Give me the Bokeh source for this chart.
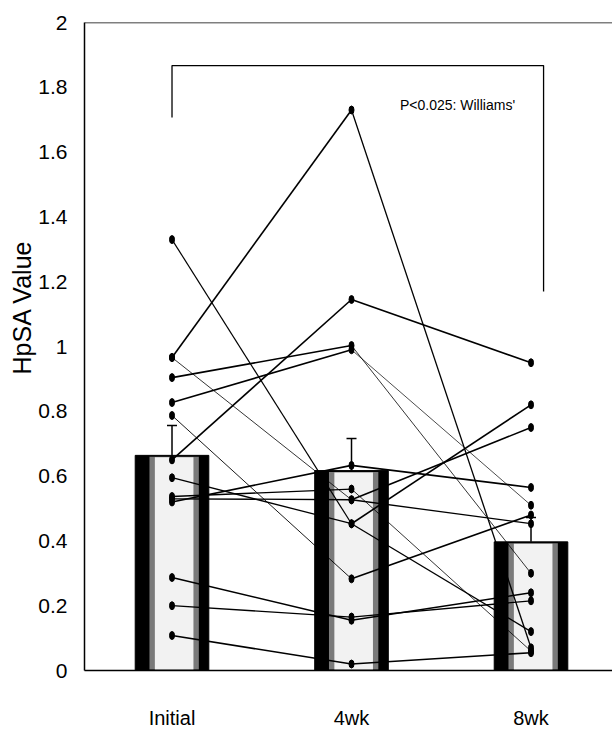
from bokeh.plotting import figure
from bokeh.models import (Range1d, FixedTicker, Span, Label, Whisker, TeeHead,
                          ColumnDataSource, Title)
from bokeh.embed import file_html
from bokeh.resources import INLINE

# ---------------- data ----------------
categories = ["Initial", "4wk", "8wk"]

# individual subjects (Initial, 4wk, 8wk)
initial = [1.33, 0.966, 0.966, 0.904, 0.827, 0.787, 0.65, 0.595, 0.537, 0.53, 0.52, 0.287, 0.20, 0.108]
week4   = [0.453, 1.73, 0.527, 1.003, 0.99, 0.283, 1.145, 0.453, 0.56, 0.527, 0.633, 0.155, 0.165, 0.02]
week8   = [0.82, 0.07, 0.453, 0.30, 0.51, 0.48, 0.95, 0.12, 0.06, 0.75, 0.565, 0.24, 0.215, 0.055]

# group means and standard errors (bars)
means = [0.664, 0.617, 0.397]
sems  = [0.092, 0.099, 0.075]

y_ticks = [0, 0.2, 0.4, 0.6, 0.8, 1.0, 1.2, 1.4, 1.6, 1.8, 2.0]
y_tick_labels = ["0", "0.2", "0.4", "0.6", "0.8", "1", "1.2", "1.4", "1.6", "1.8", "2"]

annotation_text = "P<0.025: Williams'"
y_title = "HpSA Value"

# significance bracket (data coordinates)
bracket_x = [0, 0, 2.07, 2.07]
bracket_y = [1.707, 1.867, 1.867, 1.17]

# ---------------- styles ----------------
seg1_w = [1.2, 1.6, 0.8, 1.6, 1.6, 0.9, 1.6, 1.3, 1.3, 1.3, 1.6, 1.6, 1.3, 1.6]
seg2_w = [1.6, 1.3, 1.3, 0.8, 0.7, 1.6, 1.6, 1.3, 0.8, 1.6, 1.6, 1.6, 1.3, 1.6]
FONT = "Liberation Sans"

p = figure(width=612, height=733, output_backend="svg", toolbar_location=None,
           x_range=Range1d(-0.4875, 2.454), y_range=Range1d(0, 2),
           min_border_left=84, min_border_right=0, min_border_top=22,
           min_border_bottom=63)
p.outline_line_color = None
p.grid.visible = False
p.background_fill_color = "white"
p.border_fill_color = "white"

xpos = list(range(len(categories)))

# bars: black outer with a light centre
p.vbar(x=xpos, top=means, width=0.41, bottom=0, fill_color="black", line_color="black")
xc = [x + 0.012 for x in xpos]
p.vbar(x=xc, top=[m - 0.004 for m in means], width=0.275, bottom=0.003,
       fill_color="#7a7a7a", line_color=None)
p.vbar(x=xc, top=[m - 0.006 for m in means], width=0.215, bottom=0.003,
       fill_color="#f2f2f2", line_color=None)

# error bars
src = ColumnDataSource(dict(x=xpos, lower=means,
                            upper=[m + s for m, s in zip(means, sems)]))
p.add_layout(Whisker(source=src, base="x", lower="lower", upper="upper",
                     line_color="black", line_width=1.5, lower_head=None,
                     upper_head=TeeHead(size=10, line_width=1.5, line_color="black")))

# subject lines
n = len(initial)
p.segment(x0=[0] * n, y0=initial, x1=[1] * n, y1=week4, line_color="black", line_width=seg1_w)
p.segment(x0=[1] * n, y0=week4, x1=[2] * n, y1=week8, line_color="black", line_width=seg2_w)

# points
for i, vals in enumerate([initial, week4, week8]):
    p.ellipse(x=[i] * n, y=vals, width=5, height=8, width_units="screen",
              height_units="screen", fill_color="black", line_color="black")

# bracket and annotation
p.line(bracket_x, bracket_y, line_color="black", line_width=1.3)
p.add_layout(Label(x=1.27, y=1.745, text=annotation_text, text_font=FONT,
                   text_font_size="14px", text_baseline="middle", text_align="left",
                   text_color="black"))

# top border
p.add_layout(Span(location=2, dimension="width", line_color="black", line_width=1.5))

# axes
p.yaxis.ticker = FixedTicker(ticks=y_ticks)
p.yaxis.major_label_overrides = {t: l for t, l in zip(y_ticks, y_tick_labels)}
p.yaxis.major_label_text_font = FONT
p.yaxis.major_label_text_font_size = "21px"
p.yaxis.major_label_text_color = "black"
p.yaxis.major_label_standoff = 11
p.yaxis.axis_line_width = 1.5
p.yaxis.major_tick_line_color = None
p.yaxis.minor_tick_line_color = None

p.xaxis.ticker = FixedTicker(ticks=xpos)
p.xaxis.major_label_overrides = {i: c for i, c in enumerate(categories)}
p.xaxis.major_label_text_font = FONT
p.xaxis.major_label_text_font_size = "20px"
p.xaxis.major_label_text_color = "black"
p.xaxis.major_label_standoff = 30
p.xaxis.axis_line_width = 1.5
p.xaxis.major_tick_line_color = None
p.xaxis.minor_tick_line_color = None

# y title, shifted upward like the reference
p.add_layout(Title(text=y_title, align="left", offset=296, standoff=0,
                   text_font=FONT, text_font_size="25px", text_font_style="normal",
                   text_color="black"), "left")

open("out.html", "w").write(file_html(p, INLINE))
